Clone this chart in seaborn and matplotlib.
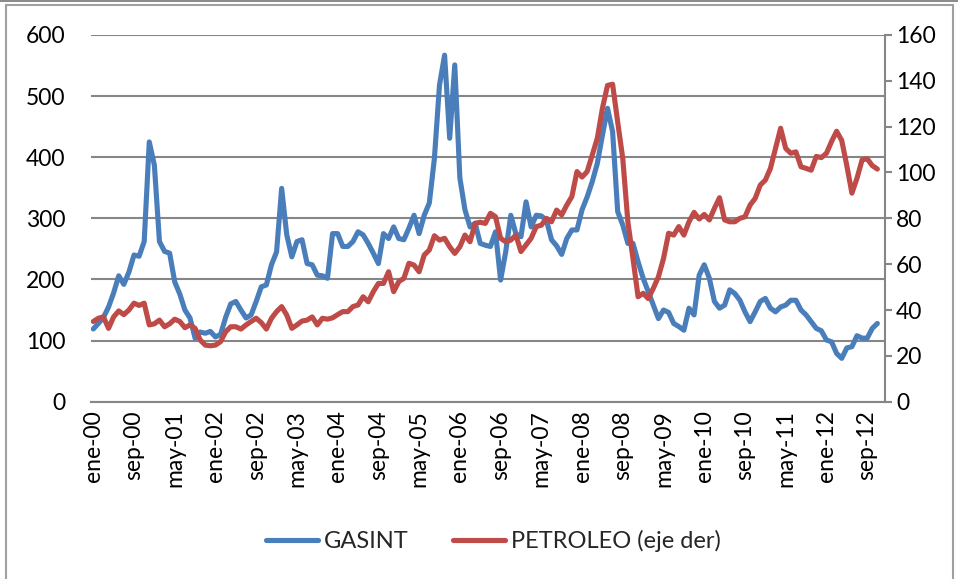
import matplotlib
matplotlib.use("Agg")
import matplotlib.pyplot as plt
import seaborn as sns
import pandas as pd
from matplotlib.patches import Rectangle

# Monthly series, ene-00 .. nov-12
meses = ["ene", "feb", "mar", "abr", "may", "jun", "jul", "ago", "sep", "oct", "nov", "dic"]
anios = list(range(2000, 2013))

gasint = [
    119, 128, 138, 155, 178, 206, 192, 212, 240, 238, 262, 425,
    387, 262, 246, 243, 196, 176, 150, 137, 104, 114, 112, 115,
    106, 110, 138, 160, 164, 150, 137, 142, 164, 188, 191, 224,
    245, 349, 273, 237, 262, 265, 226, 224, 207, 206, 202, 275,
    275, 254, 254, 262, 278, 273, 259, 243, 226, 275, 267, 286,
    267, 265, 284, 305, 275, 305, 325, 398, 518, 567, 431, 551,
    366, 314, 286, 292, 259, 256, 254, 278, 199, 245, 305, 275,
    270, 327, 286, 305, 304, 297, 265, 255, 241, 267, 281, 281,
    314, 335, 360, 390, 436, 480, 442, 311, 289, 259, 259, 229,
    202, 180, 158, 136, 150, 146, 128, 123, 117, 153, 142, 207,
    224, 202, 164, 153, 158, 183, 177, 166, 147, 131, 147, 164,
    169, 153, 147, 155, 158, 166, 166, 150, 142, 131, 120, 116,
    101, 98, 79, 71, 88, 90, 108, 104, 104, 120, 128,
]

petroleo = [
    35.0, 36.4, 37.0, 32.0, 37.0, 39.6, 38.0, 40.0, 43.0, 42.0, 43.0, 33.5,
    34.0, 35.6, 32.7, 34.0, 36.0, 35.0, 32.3, 33.5, 32.0, 26.9, 24.7, 24.4,
    24.7, 26.2, 30.5, 32.7, 32.7, 31.7, 33.5, 35.0, 36.4, 34.5, 31.7, 36.4,
    39.3, 41.5, 37.8, 32.0, 33.5, 35.2, 35.6, 37.0, 33.5, 36.4, 36.0, 36.6,
    38.0, 39.3, 39.3, 41.5, 42.2, 45.8, 43.6, 48.0, 51.6, 51.6, 56.7, 48.0,
    52.4, 53.8, 60.4, 59.6, 56.7, 64.0, 66.2, 72.4, 70.5, 71.3, 67.6, 64.7,
    67.6, 72.7, 69.8, 77.8, 78.3, 77.8, 82.2, 80.7, 71.3, 69.8, 70.5, 72.7,
    65.5, 68.4, 71.3, 76.4, 77.0, 80.0, 78.5, 83.6, 81.5, 85.8, 89.5, 100.4,
    98.0, 100.4, 107.6, 115.0, 128.0, 138.0, 138.5, 122.0, 106.0, 78.5, 62.5, 45.8,
    47.3, 45.0, 49.5, 54.5, 62.5, 73.5, 72.7, 76.4, 72.7, 78.5, 82.6, 79.7,
    81.7, 79.3, 84.4, 89.0, 79.3, 78.5, 78.5, 80.0, 80.7, 85.8, 88.7, 94.5,
    96.7, 101.8, 110.5, 119.3, 110.5, 108.4, 109.0, 102.5, 101.8, 101.0, 107.0, 106.5,
    108.4, 113.5, 118.0, 114.0, 103.0, 91.0, 97.5, 105.5, 106.0, 103.0, 101.5,
]

etiquetas = [f"{m}-{a % 100:02d}" for a in anios for m in meses]
n_cat = len(etiquetas)  # category axis spans the full 2000-2012 range

df = pd.DataFrame({
    "pos": range(len(gasint)),
    "GASINT": gasint,
    "PETROLEO": petroleo,
})

sns.set_theme(style="white")
plt.rcParams["font.family"] = ["Lato", "DejaVu Sans"]

AZUL = "#4A7EBB"
ROJO = "#BE4B48"
GRIS = "#868686"
FS = 16.5

fig = plt.figure(figsize=(9.58, 5.79), dpi=100)
ax = fig.add_axes([0.0947, 0.3062, 0.9238 - 0.0947, 0.9396 - 0.3062])
ax2 = ax.twinx()

sns.lineplot(data=df, x="pos", y="GASINT", ax=ax, color=AZUL, linewidth=3.7,
             label="GASINT", legend=False)
sns.lineplot(data=df, x="pos", y="PETROLEO", ax=ax2, color=ROJO, linewidth=3.7,
             label="PETROLEO (eje der)", legend=False)

ax.set_xlim(-0.5, n_cat - 0.5)
ax.set_ylim(0, 600)
ax2.set_ylim(0, 160)
ax.set_yticks(range(0, 601, 100))
ax2.set_yticks(range(0, 161, 20))
ticks = list(range(0, len(gasint), 8))
ax.set_xticks(ticks)
ax.set_xticklabels([etiquetas[i] for i in ticks], rotation=90, fontsize=FS)
ax.set_xlabel("")
ax.set_ylabel("")
ax2.set_ylabel("")

ax.yaxis.grid(True, color=GRIS, linewidth=1.5)
ax.set_axisbelow(True)
for a in (ax, ax2):
    for s in a.spines.values():
        s.set_visible(False)
ax2.spines["right"].set_visible(True)
ax2.spines["right"].set_color(GRIS)
ax2.spines["right"].set_linewidth(1.5)
ax.spines["bottom"].set_visible(True)
ax.spines["bottom"].set_color(GRIS)
ax.spines["bottom"].set_linewidth(1.5)

ax.tick_params(axis="y", length=0, pad=18, labelsize=FS, colors="black")
ax.tick_params(axis="x", length=0, pad=6, labelsize=FS, colors="black")
ax2.tick_params(axis="y", length=5, width=1.5, color=GRIS, pad=3,
                labelsize=FS, labelcolor="black", direction="out", right=True)

# Legend below the plot
h1, l1 = ax.get_legend_handles_labels()
h2, l2 = ax2.get_legend_handles_labels()
fig.legend(h1 + h2, l1 + l2, loc="center", bbox_to_anchor=(0.515, 0.066),
           ncol=2, frameon=False, fontsize=17, handlelength=2.2,
           columnspacing=1.9, handletextpad=0.25)

# Chart area border
fig.patches.append(Rectangle((0.006, -0.01), 0.989, 1.002, transform=fig.transFigure,
                             fill=False, edgecolor="#A0A0A0", linewidth=1.5))
fig.patches.append(Rectangle((0.0, 0.996), 1.0, 0.004, transform=fig.transFigure,
                             fill=True, facecolor="#8C8C8C", edgecolor="none"))

fig.savefig("out.png", dpi=100)
